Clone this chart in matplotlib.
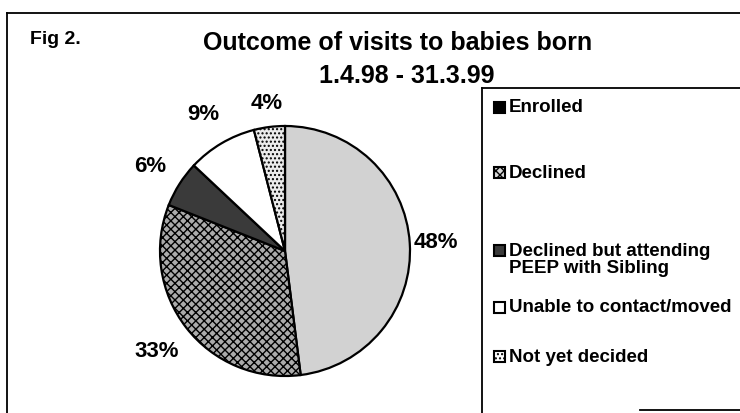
import numpy as np
import matplotlib.pyplot as plt
from matplotlib.patches import Rectangle
from matplotlib.lines import Line2D

plt.rcParams['font.family'] = ['Liberation Sans', 'DejaVu Sans']

categories = ['Enrolled', 'Declined', 'Declined but attending\nPEEP with Sibling',
              'Unable to contact/moved', 'Not yet decided']
values = [48, 33, 6, 9, 4]
pct_labels = ['48%', '33%', '6%', '9%', '4%']
colors = ['#d2d2d2', '#ababab', '#3a3a3a', '#ffffff', '#ececec']
legend_colors = ['#000000', '#d8d8d8', '#3a3a3a', '#ffffff', '#ffffff']
hatches = ['', 'xxxx', '', '', '....']

# layout (pixels in a 740x414 figure)
W, H = 740, 414
label_dist = [1.21, 1.3, 1.28, 1.28, 1.2]
legend_y = [108, 173, 260, 308, 357]


def fx(px):
    return px / W


def fy(py):
    return 1 - py / H


fig = plt.figure(figsize=(7.4, 4.14), dpi=100)
fig.patch.set_facecolor('white')

# outer frame
fig.add_artist(Line2D([fx(7), fx(7)], [fy(14), fy(414)], color='black', lw=1.3))
fig.add_artist(Line2D([fx(7), fx(740)], [fy(14), fy(14)], color='black', lw=1.3))
# legend box
fig.add_artist(Line2D([fx(482), fx(482)], [fy(89), fy(414)], color='black', lw=1.3))
fig.add_artist(Line2D([fx(482), fx(740)], [fy(89), fy(89)], color='black', lw=1.3))
fig.add_artist(Line2D([fx(640), fx(740)], [fy(411), fy(411)], color='black', lw=1.3))

fig.text(fx(30), fy(40), 'Fig 2.', fontsize=14, va='center', fontweight='bold')
fig.text(fx(398), fy(43), 'Outcome of visits to babies born', fontsize=18,
         fontweight='bold', ha='center', va='center')
fig.text(fx(407), fy(76), '1.4.98 - 31.3.99', fontsize=18,
         fontweight='bold', ha='center', va='center')

# pie axes: center ~(285, 252), radius ~125 px
r = 125
cx, cy = 285, 252
ax = fig.add_axes([fx(cx - r), fy(cy + r), 2 * r / W, 2 * r / H])
wedges, _ = ax.pie(values, colors=colors, startangle=90, counterclock=False,
                   wedgeprops=dict(edgecolor='black', linewidth=1.6))
for w, h in zip(wedges, hatches):
    w.set_hatch(h)
for w, lab, d in zip(wedges, pct_labels, label_dist):
    ang = np.deg2rad((w.theta1 + w.theta2) / 2)
    ax.text(d * np.cos(ang), d * np.sin(ang), lab, ha='center', va='center',
            fontsize=16, fontweight='bold', clip_on=False)
ax.set_xlim(-1, 1)
ax.set_ylim(-1, 1)
ax.set_aspect('equal')
ax.axis('off')

# legend
for c, h, lab, y in zip(legend_colors, hatches, categories, legend_y):
    nlines = lab.count('\n') + 1
    ytop = y - (nlines - 1) * 8.5
    fig.add_artist(Rectangle((fx(494), fy(ytop + 5.5)), 11 / W, 11 / H,
                             transform=fig.transFigure, facecolor=c,
                             edgecolor='black', lw=1.5, hatch=h if c != '#000000' else ''))
    fig.text(fx(509), fy(y), lab, fontsize=13.5, fontweight='bold', va='center',
             linespacing=1.0)

fig.savefig('out.png', dpi=100)
